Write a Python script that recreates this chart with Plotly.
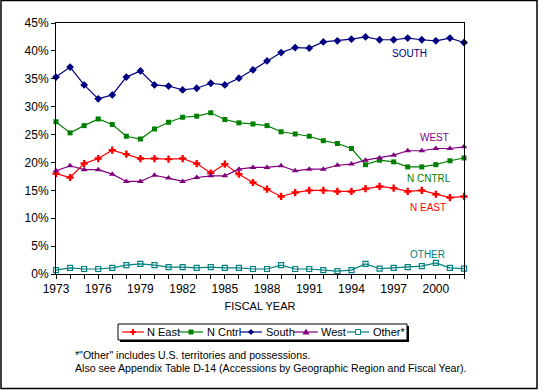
import plotly.graph_objects as go

years = list(range(1973, 2003))
tick_labels = [str(y) if (y - 1973) % 3 == 0 else "" for y in years]

n_east = [18.0, 17.3, 19.8, 20.7, 22.2, 21.5, 20.7, 20.7, 20.6, 20.7,
          19.8, 18.1, 19.7, 17.9, 16.4, 15.2, 13.9, 14.6, 15.0, 15.0,
          14.8, 14.8, 15.3, 15.7, 15.4, 14.8, 15.0, 14.3, 13.7, 13.9]
n_cntrl = [27.3, 25.3, 26.6, 27.8, 26.8, 24.7, 24.2, 26.0, 27.2, 28.1,
           28.3, 28.9, 27.7, 27.1, 26.9, 26.6, 25.5, 25.1, 24.7, 23.9,
           23.4, 22.5, 19.6, 20.4, 20.1, 19.2, 19.2, 19.6, 20.3, 20.8]
south = [35.3, 37.1, 33.9, 31.4, 32.1, 35.3, 36.4, 33.9, 33.7, 33.0,
         33.3, 34.2, 33.9, 35.1, 36.6, 38.2, 39.7, 40.6, 40.5, 41.6,
         41.8, 42.1, 42.5, 42.0, 42.0, 42.3, 42.0, 41.8, 42.3, 41.5]
west = [18.5, 19.4, 18.7, 18.7, 17.9, 16.6, 16.6, 17.7, 17.2, 16.6,
        17.3, 17.6, 17.6, 18.8, 19.1, 19.1, 19.4, 18.5, 18.8, 18.8,
        19.5, 19.7, 20.4, 20.8, 21.3, 22.1, 22.1, 22.5, 22.5, 22.8]
other = [0.7, 1.1, 0.9, 0.9, 1.1, 1.6, 1.8, 1.6, 1.25, 1.25,
         1.1, 1.25, 1.1, 1.1, 0.9, 0.9, 1.6, 0.9, 0.9, 0.7,
         0.5, 0.7, 1.8, 0.95, 1.1, 1.25, 1.4, 2.0, 1.1, 0.95]

series_names = ["N East", "N Cntrl", "South", "West", "Other*"]
series_values = [n_east, n_cntrl, south, west, other]
colors = ["#FF0000", "#008000", "#000080", "#800080", "#008080"]
symbols = ["cross", "square", "diamond", "triangle-up", "square-open"]
sizes = [6, 5, 6, 6, 5]

region_labels = ["SOUTH", "WEST", "N CNTRL", "N EAST", "OTHER"]
footnotes = ['*"Other" includes U.S. territories and possessions.',
             'Also see Appendix Table D-14 (Accessions by Geographic Region and Fiscal Year).']

FONT = "Arial, Liberation Sans, sans-serif"

fig = go.Figure()
for name, vals, c, s, sz in zip(series_names, series_values, colors, symbols, sizes):
    fig.add_trace(go.Scatter(
        x=years, y=vals, name=name, mode="lines+markers", showlegend=False,
        line=dict(color=c, width=1.2),
        marker=dict(color=c, symbol=s, size=sz, line=dict(color=c, width=1.2 if s == "square-open" else 0)),
        cliponaxis=False,
    ))

W, H = 541, 390
L, R, T, B = 56, 464, 23, 274
pw, ph = R - L, B - T

def px(xp):
    return (xp - L) / pw

def py(yp):
    return (B - yp) / ph

fig.update_layout(
    width=W, height=H,
    margin=dict(l=L, r=W - R, t=T, b=H - B, autoexpand=False),
    paper_bgcolor="white", plot_bgcolor="white",
    font=dict(family=FONT, size=12, color="black"),
    showlegend=False,
)
fig.update_xaxes(
    range=[1973, 2002], tickmode="array", tickvals=years, ticktext=tick_labels,
    ticks="outside", ticklen=4, tickcolor="black", showgrid=False, zeroline=False,
    showline=True, linecolor="black", linewidth=1, mirror=True, automargin=False,
    tickfont=dict(size=12, family=FONT),
    title=dict(text="FISCAL YEAR", font=dict(size=11, family=FONT), standoff=6),
)
fig.update_yaxes(
    range=[0, 45], dtick=5, ticksuffix="%", ticks="outside", ticklen=4, tickcolor="black",
    showgrid=False, zeroline=False, showline=True, linecolor="black", linewidth=1, mirror=True,
    automargin=False, tickfont=dict(size=12, family=FONT),
)

label_pos = [(409, 53), (434, 137), (429, 178), (428, 207), (427, 254)]
label_colors = ["#000080", "#800080", "#008000", "#FF0000", "#008080"]
for txt, (xp, yp), c in zip(region_labels, label_pos, label_colors):
    fig.add_annotation(x=px(xp), y=py(yp), xref="paper", yref="paper", text=txt,
                       showarrow=False, xanchor="center", yanchor="middle",
                       font=dict(size=10, color=c, family=FONT))

for i, ft in enumerate(footnotes):
    fig.add_annotation(x=px(73), y=py(355 + 12.5 * i), xref="paper", yref="paper", text=ft,
                       showarrow=False, xanchor="left", yanchor="middle",
                       font=dict(size=10.6, color="black", family=FONT))

# ---- hand-drawn legend box (Excel style with shadow) ----
fig.add_shape(type="rect", xref="paper", yref="paper",
              x0=px(120), x1=px(409), y0=py(342), y1=py(326),
              fillcolor="black", line=dict(width=0))
fig.add_shape(type="rect", xref="paper", yref="paper",
              x0=px(118), x1=px(407), y0=py(340), y1=py(324),
              fillcolor="white", line=dict(color="black", width=1))

leg_line_x = [(122, 144), (179, 203), (240, 262), (294, 318), (347, 369)]
leg_text_x = [145, 205, 264, 319, 371]
ly = 332
for (x0, x1), tx, c, s, name in zip(leg_line_x, leg_text_x, colors, symbols, series_names):
    fig.add_shape(type="line", xref="paper", yref="paper", x0=px(x0), x1=px(x1),
                  y0=py(ly), y1=py(ly), line=dict(color=c, width=1.2))
    mx = (x0 + x1) / 2
    if s == "cross":
        fig.add_shape(type="line", xref="paper", yref="paper", x0=px(mx), x1=px(mx),
                      y0=py(ly - 3), y1=py(ly + 3), line=dict(color=c, width=2))
        fig.add_shape(type="line", xref="paper", yref="paper", x0=px(mx - 3), x1=px(mx + 3),
                      y0=py(ly), y1=py(ly), line=dict(color=c, width=2))
    elif s == "square":
        fig.add_shape(type="rect", xref="paper", yref="paper", x0=px(mx - 2.5), x1=px(mx + 2.5),
                      y0=py(ly + 2.5), y1=py(ly - 2.5), fillcolor=c, line=dict(width=0))
    elif s == "square-open":
        fig.add_shape(type="rect", xref="paper", yref="paper", x0=px(mx - 2.5), x1=px(mx + 2.5),
                      y0=py(ly + 2.5), y1=py(ly - 2.5), fillcolor="white", line=dict(color=c, width=1))
    elif s == "diamond":
        path = "M {} {} L {} {} L {} {} L {} {} Z".format(
            px(mx), py(ly - 3), px(mx + 3), py(ly), px(mx), py(ly + 3), px(mx - 3), py(ly))
        fig.add_shape(type="path", xref="paper", yref="paper", path=path,
                      fillcolor=c, line=dict(width=0))
    elif s == "triangle-up":
        path = "M {} {} L {} {} L {} {} Z".format(
            px(mx), py(ly - 3.5), px(mx + 3.5), py(ly + 2.5), px(mx - 3.5), py(ly + 2.5))
        fig.add_shape(type="path", xref="paper", yref="paper", path=path,
                      fillcolor=c, line=dict(width=0))
    fig.add_annotation(x=px(tx), y=py(ly), xref="paper", yref="paper", text=name,
                       showarrow=False, xanchor="left", yanchor="middle",
                       font=dict(size=11, color="black", family=FONT))

# outer frame
fig.add_shape(type="rect", xref="paper", yref="paper",
              x0=px(1), x1=px(537), y0=py(388.5), y1=py(0.5),
              line=dict(color="black", width=1.5), fillcolor="rgba(0,0,0,0)")

fig.write_html("out.html", config={"displayModeBar": False},
               post_script="document.body.style.margin='0';document.body.style.padding='0';")
